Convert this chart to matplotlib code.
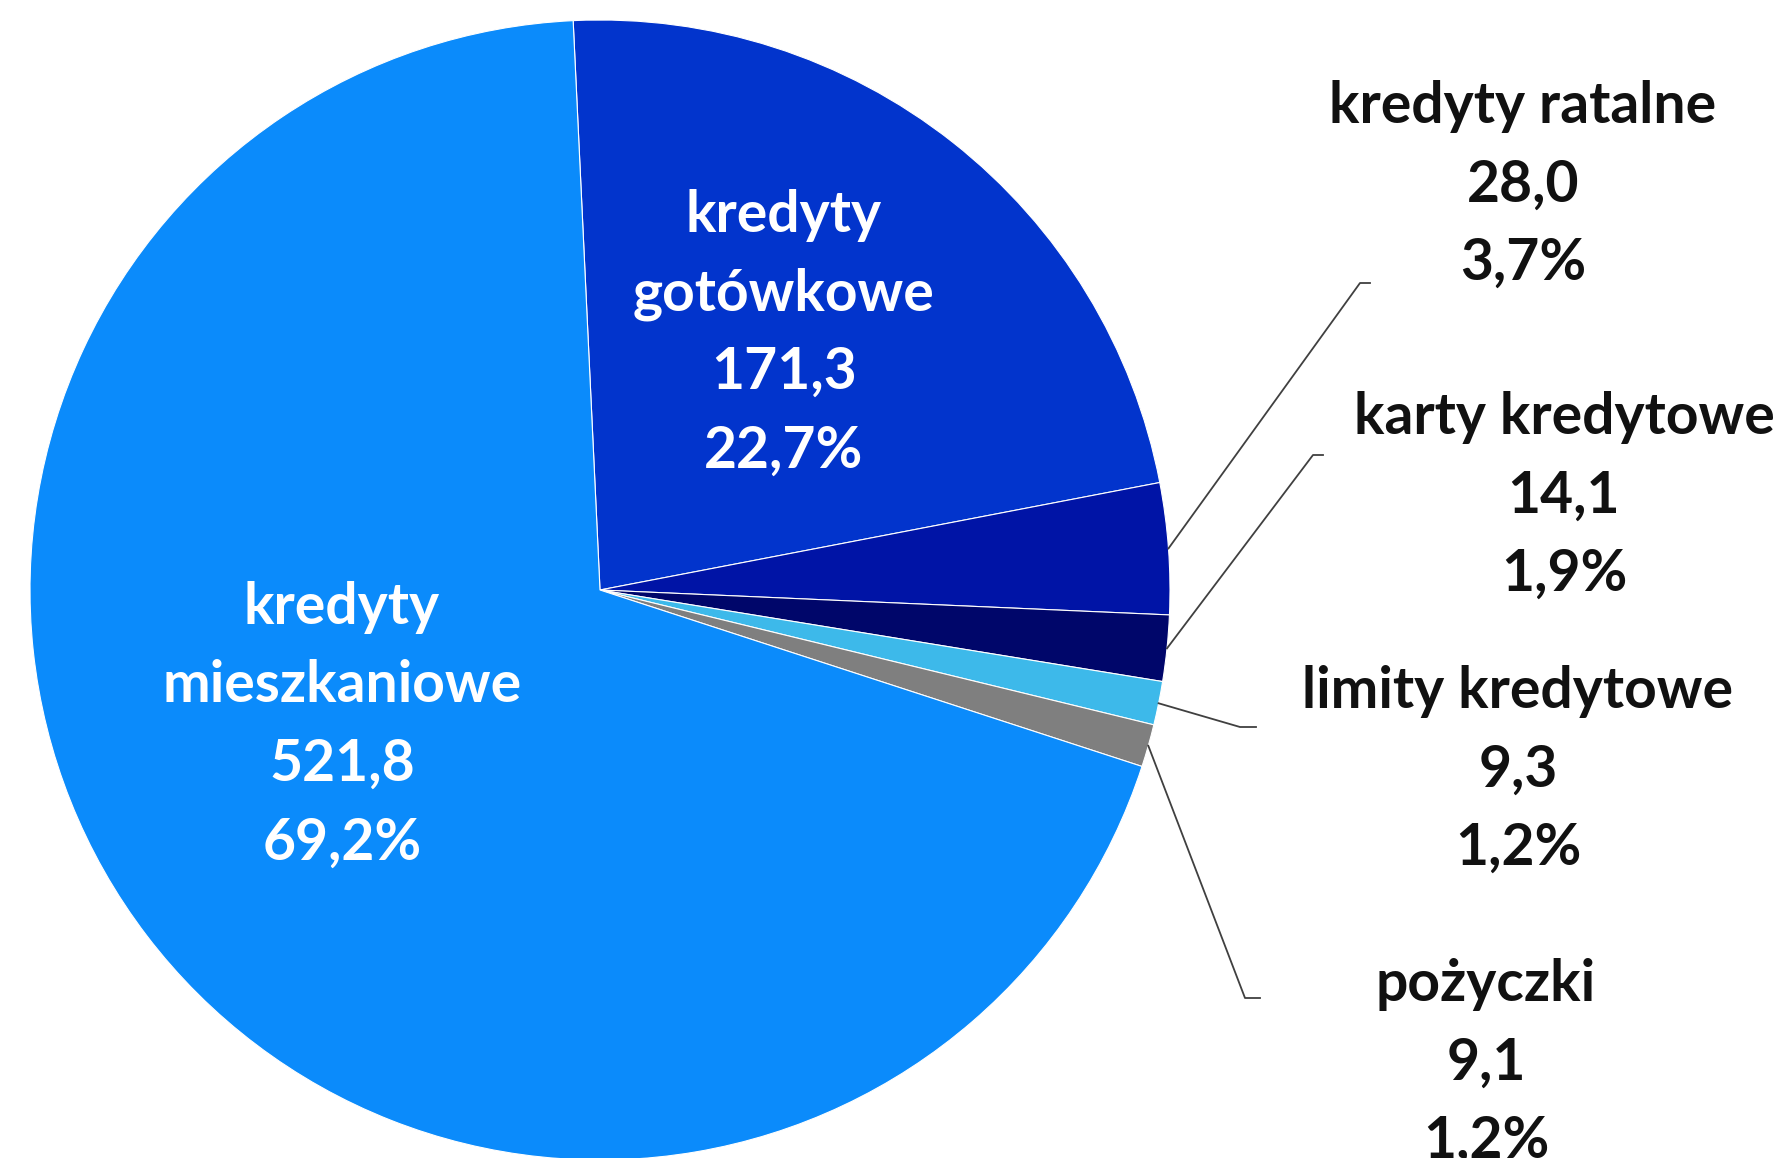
import numpy as np
import matplotlib
matplotlib.use("Agg")
import matplotlib.pyplot as plt

# data (mld zł)
categories = ["kredyty gotówkowe", "kredyty ratalne", "karty kredytowe",
              "limity kredytowe", "pożyczki", "kredyty mieszkaniowe"]
values = [171.3, 28.0, 14.1, 9.3, 9.1, 521.8]
colors = ["#0234CC", "#0014A6", "#00066A", "#3DB9EA", "#7F7F7F", "#0B8BFB"]

W, H = 1788, 1158
plt.rcParams['font.family'] = ['Lato', 'DejaVu Sans']

fig = plt.figure(figsize=(W / 100, H / 100), dpi=100, facecolor='white')
ax = fig.add_axes([0, 0, 1, 1])

cx, cy, r = 600, 590, 570  # pixel coords, y from top
wedges, _ = ax.pie(values, colors=colors, startangle=92.7, counterclock=False,
                   center=(cx, H - cy), radius=r,
                   wedgeprops=dict(edgecolor='white', linewidth=0.8))
ax.set_xlim(0, W)
ax.set_ylim(0, H)
ax.set_aspect('equal')
ax.axis('off')

total = sum(values)


def fmt(v):
    return f"{v:.1f}".replace('.', ',')


def label_lines(i):
    name = categories[i]
    if i in (0, 5):
        name_lines = name.split(" ", 1)
    else:
        name_lines = [name]
    return name_lines + [fmt(values[i]), fmt(values[i] / total * 100) + "%"]


# label placement: (center x, first baseline y, text color)
label_pos = {
    0: (784, 232, 'white'),
    5: (342, 624, 'white'),
    1: (1523, 123, '#111111'),
    2: (1564, 434, '#111111'),
    3: (1518, 708, '#111111'),
    4: (1486, 1001, '#111111'),
}
line_step = 78.5
fs = 41

for i, (x, y0, col) in label_pos.items():
    for k, line in enumerate(label_lines(i)):
        ax.text(x, H - (y0 + k * line_step), line, ha='center', va='baseline',
                fontsize=fs, fontweight='bold', color=col)

# leader lines: elbow points for the small slices
elbows = {
    1: [(1360, 283), (1370, 283)],
    2: [(1313, 455), (1323, 455)],
    3: [(1240, 727), (1256, 727)],
    4: [(1245, 998), (1260, 998)],
}
for i, pts in elbows.items():
    w = wedges[i]
    mid = np.deg2rad((w.theta1 + w.theta2) / 2)
    sx = cx + r * np.cos(mid)
    sy = (H - cy) + r * np.sin(mid)
    xs = [sx] + [p[0] for p in pts]
    ys = [sy] + [H - p[1] for p in pts]
    ax.plot(xs, ys, color='#404040', linewidth=1.3)

fig.savefig("out.png", dpi=100, facecolor='white')
